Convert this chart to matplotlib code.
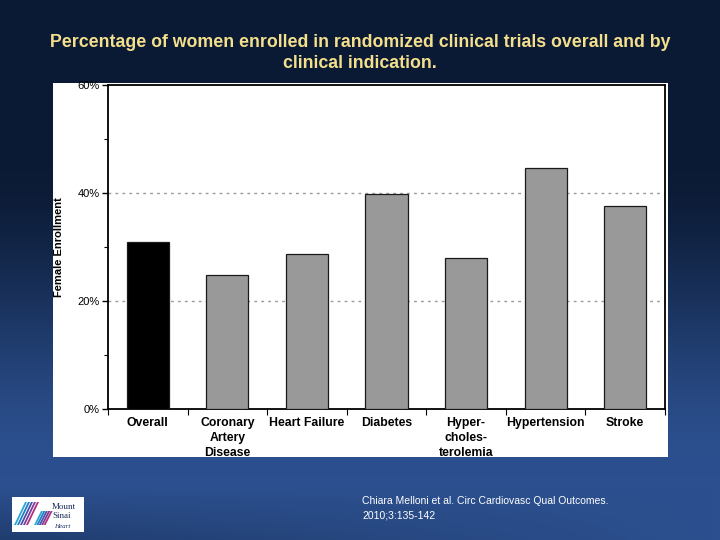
import numpy as np
import matplotlib
matplotlib.use('Agg')
import matplotlib.pyplot as plt
from matplotlib.patches import Rectangle, Polygon

plt.rcParams['font.family'] = ['Liberation Sans', 'DejaVu Sans']

categories = ['Overall', 'Coronary\nArtery\nDisease', 'Heart Failure', 'Diabetes',
              'Hyper-\ncholes-\nterolemia', 'Hypertension', 'Stroke']
enrollment = [30.9, 24.8, 28.7, 39.9, 28.0, 44.7, 37.6]
bar_colors = ['#000000'] + ['#999999'] * 6
y_ticks = [0, 20, 40, 60]
y_labels = ['0%', '20%', '40%', '60%']

title = ('Percentage of women enrolled in randomized clinical trials overall and by\n'
         'clinical indication.')
citation = 'Chiara Melloni et al. Circ Cardiovasc Qual Outcomes.\n2010;3:135-142'

fig = plt.figure(figsize=(7.2, 5.4), dpi=100)

# slide background gradient
bg = fig.add_axes([0, 0, 1, 1], zorder=-10)
h, w = 540, 720
yy = np.linspace(0, 1, h)[:, None]
xx = np.linspace(0, 1, w)[None, :]
dark = np.array([11, 26, 52]) / 255.0
blue = np.array([44, 80, 143]) / 255.0
t = np.clip((yy - 0.28) / 0.6, 0, 1)
t = t * t * (3 - 2 * t)
t = t - np.clip((yy - 0.9) / 0.1, 0, 1) * 0.35 * (1 - xx)
t = np.clip(t + 0 * xx, 0, 1)
img = dark[None, None, :] * (1 - t[..., None]) + blue[None, None, :] * t[..., None]
bg.imshow(img, aspect='auto', extent=[0, 1, 0, 1], origin='upper')
bg.set_axis_off()

# white chart panel
fig.patches.append(Rectangle((53 / 720, 83 / 540), 615 / 720, 374 / 540,
                             transform=fig.transFigure, facecolor='white',
                             edgecolor='none', zorder=-5))

fig.text(0.5, 1 - 53 / 540, title, ha='center', va='center',
         color='#F3DF8C', fontsize=12.8, fontweight='bold', linespacing=1.3)

ax = fig.add_axes([108 / 720, 131 / 540, 557 / 720, 324 / 540])
x = np.arange(len(categories))
ax.bar(x, enrollment, width=0.53, color=bar_colors, edgecolor='#1a1a1a',
       linewidth=0.9, zorder=3)
ax.set_xlim(-0.5, len(categories) - 0.5)
ax.set_ylim(0, 60)

ax.set_yticks(y_ticks)
ax.set_yticklabels(y_labels, fontsize=8)
ax.set_yticks([10, 30, 50], minor=True)
ax.tick_params(axis='y', which='major', length=4, width=1, direction='out', pad=2)
ax.tick_params(axis='y', which='minor', length=3, width=0.8, direction='out')

ax.set_xticks(x)
ax.set_xticklabels(categories, fontsize=8.8, fontweight='bold', linespacing=1.3)
ax.set_xticks(np.arange(-0.5, len(categories)), minor=True)
ax.tick_params(axis='x', which='major', length=0, pad=6)
ax.tick_params(axis='x', which='minor', length=4, width=0.8, direction='out')

for v in [20, 40]:
    ax.axhline(v, color='#9a9a9a', linestyle=(0, (2, 3)), linewidth=1, zorder=1)

for s in ax.spines.values():
    s.set_linewidth(1.3)
    s.set_color('black')

ax.set_ylabel('Female Enrollment', fontsize=8, fontweight='bold')
ax.yaxis.set_label_coords(-44 / 557, 0.5)

fig.text(362 / 720, 1 - 508 / 540, citation, ha='left', va='center',
         color='white', fontsize=7.5, linespacing=1.5)

# logo box
lg = fig.add_axes([12 / 720, 8 / 540, 72 / 720, 35 / 540])
lg.set_xlim(0, 72)
lg.set_ylim(0, 35)
lg.add_patch(Rectangle((0, 0), 72, 35, facecolor='white', edgecolor='none'))
for i, c in enumerate(['#2aa7d8', '#1f7fc4', '#4b4fa8', '#7a3b9a', '#b0307e']):
    dx = i * 3
    lg.add_patch(Polygon([[2 + dx, 7], [13 + dx, 30], [15 + dx, 30], [4 + dx, 7]],
                         closed=True, facecolor=c, edgecolor='none'))
    lg.add_patch(Polygon([[22 + dx * 0.8, 7], [29 + dx * 0.8, 21], [31 + dx * 0.8, 21],
                          [24 + dx * 0.8, 7]],
                         closed=True, facecolor=c, edgecolor='none'))
lg.text(40, 25, 'Mount', fontsize=6.5, family='Liberation Serif', color='#1d2a5c',
        va='center', ha='left')
lg.text(40, 16, 'Sinai', fontsize=6.5, family='Liberation Serif', color='#1d2a5c',
        va='center', ha='left')
lg.text(42, 5, 'Heart', fontsize=5, family='Liberation Serif', style='italic',
        color='#1d2a5c', va='center', ha='left')
lg.set_axis_off()

fig.savefig('out.png', dpi=100)
